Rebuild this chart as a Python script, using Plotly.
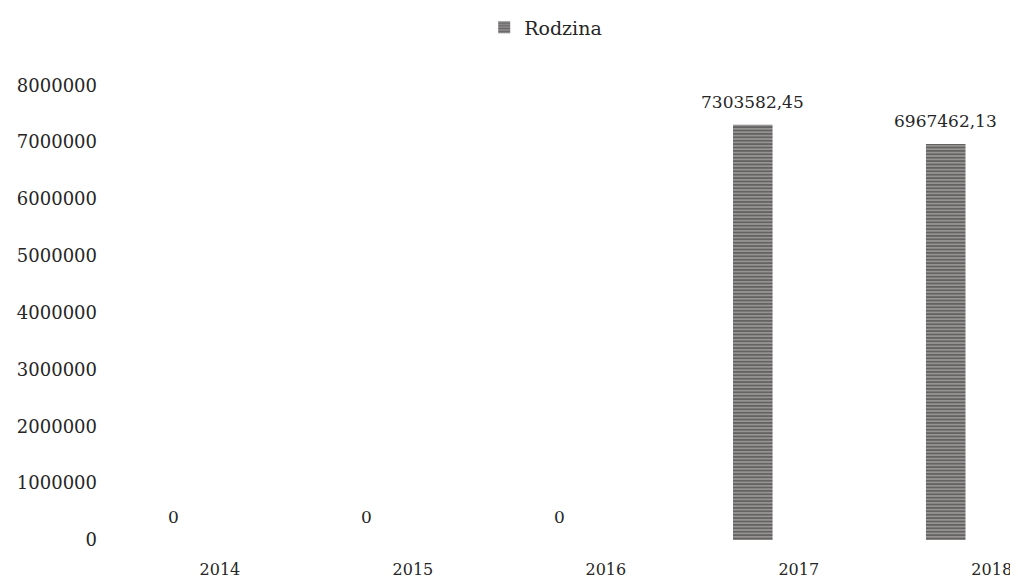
import plotly.graph_objects as go

years = ["2014", "2015", "2016", "2017", "2018"]
values = [0, 0, 0, 7303582.45, 6967462.13]
labels = ["0", "0", "0", "7303582,45", "6967462,13"]
series_name = "Rodzina"
y_ticks = [0, 1000000, 2000000, 3000000, 4000000, 5000000, 6000000, 7000000, 8000000]

FONT = "DejaVu Serif"
TXT = "#262626"
xpos = list(range(len(years)))

fig = go.Figure()
fig.add_trace(go.Bar(
    x=xpos, y=values, name=series_name, width=0.205,
    marker=dict(color="#ffffff", line=dict(width=0),
                pattern=dict(shape="-", fgcolor="#000000", bgcolor="#c8c4c4",
                             size=3.4, solidity=0.75)),
    showlegend=True,
))

for xv, yv, t in zip(xpos, values, labels):
    fig.add_annotation(x=xv, y=yv, xref="x", yref="y", text=t, showarrow=False,
                       xanchor="center", yanchor="middle", yshift=23,
                       font=dict(family=FONT, size=17, color=TXT))

fig.update_layout(
    width=1018, height=585,
    margin=dict(l=115, r=0, t=60, b=53),
    paper_bgcolor="white", plot_bgcolor="white",
    font=dict(family=FONT, color=TXT),
    showlegend=True,
    legend=dict(orientation="h", x=0.4, xanchor="left", y=1.093, yanchor="middle",
                font=dict(family=FONT, size=19, color=TXT)),
)
fig.update_xaxes(range=[-0.264, 4.416], tickvals=xpos, ticktext=years,
                 showgrid=False, showline=False, zeroline=False, ticks="",
                 tickfont=dict(family=FONT, size=16, color=TXT),
                 ticklabelshift=46, ticklabelstandoff=18)
fig.update_yaxes(range=[0, 8250000], tickvals=y_ticks, ticktext=[str(v) for v in y_ticks],
                 showgrid=False, showline=False, zeroline=False, ticks="",
                 tickfont=dict(family=FONT, size=18, color=TXT), ticklabelstandoff=25)

fig.write_html("out.html")
